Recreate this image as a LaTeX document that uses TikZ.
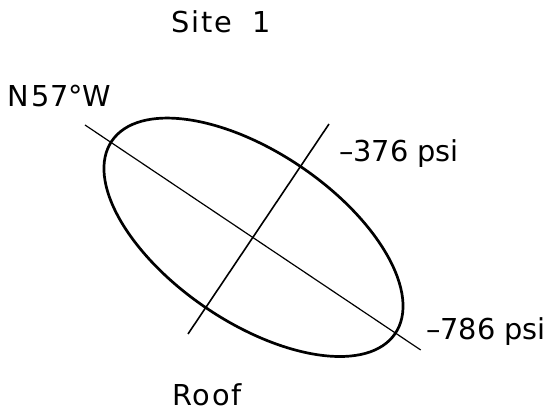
\documentclass[tikz,border=0pt]{standalone}
\usepackage{fontspec}
\setmainfont{DejaVu Sans}
\newfontfamily\spaced[LetterSpace=6.5]{DejaVu Sans}
\begin{document}
\begin{tikzpicture}[x=1pt,y=1pt,
  lab/.style={inner sep=0pt, anchor=base west, font=\fontsize{28.8}{30}\selectfont},
  outline/.style={line width=2.7pt},
  majoraxis/.style={line width=1.2pt},
  minoraxis/.style={line width=1.6pt}]
\useasboundingbox (0,0) rectangle (552,411);
% axes end points
\coordinate (O) at (253.5,173.7);
\coordinate (A) at (85,286);
\coordinate (B) at (420.7,61);
\coordinate (C) at (329,287);
\coordinate (D) at (188,77);
% stress ellipse
\draw[outline, rotate around={-34.2:(O)}] (O) ellipse [x radius=171.3pt, y radius=85pt];
\draw[majoraxis] (A) -- (B);
\draw[minoraxis] (C) -- (D);
% labels
\node[lab] (site) at (171,378) {\spaced Site\hspace{20pt}1};
\node[lab] (dir) at (7,304) {N\hspace{3pt}57°W};
\node[lab] (p1) at (339,249) {–376 psi};
\node[lab] (p2) at (426,71) {–786 psi};
\node[lab] (roof) at (172,5) {\spaced Roof};
\end{tikzpicture}
\end{document}
